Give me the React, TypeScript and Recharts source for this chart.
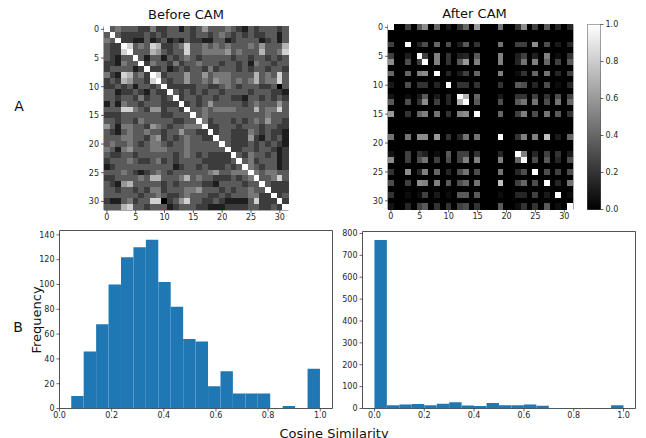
import {
  Bar,
  BarChart,
  ReferenceArea,
  Scatter,
  ScatterChart,
  XAxis,
  YAxis,
} from "recharts";

const FONT = "'DejaVu Sans', sans-serif";
const INK = "#262626";
const PAGE_W = 646;
const PAGE_H = 438;
const AXIS_W = 30;
const AXIS_H = 20;

const heatTicks = [0, 5, 10, 15, 20, 25, 30];
const colorbarTicks = [0, 0.2, 0.4, 0.6, 0.8, 1];

// upper triangle of the "before" matrix, row r starts at column r, 10 is the diagonal
const beforeUpper = [
  [10,3,4,3,3,3,2,2, 4,2,2,3,3,1,3,2, 3,5,3,3,3,4,3,2, 1,3,2,3,3,3,2,3],
  [10,3,2,2,2,2,3, 2,3,2,3,3,3,3,2, 3,3,2,3,4,3,2,3, 2,3,2,2,3,3,1,3],
  [10,2,2,1,1,3, 1,2,3,1,2,1,3,2, 2,1,1,3,3,1,2,3, 3,3,3,1,2,3,1,3],
  [10,7,3,4,3, 7,6,2,2,3,4,7,3,3, 4,3,4,3,4,3,3,3, 4,3,5,3,3,3,6,3],
  [10,3,3,3, 6,5,3,2,3,3,7,3,3, 4,4,4,4,5,3,4,3, 3,3,6,3,3,4,7,3],
  [10,3,1, 3,3,1,3,2,3,4,3,2, 3,3,3,3,3,2,3,3, 2,3,3,2,3,2,3,1],
  [10,2, 4,3,3,2,4,2,3,3,4, 3,3,3,2,3,3,2,3, 1,4,3,3,2,3,3,2],
  [10, 2,2,3,1,2,3,2,3,3, 2,4,2,3,3,3,2,3, 2,3,3,2,3,3,2,2],
  [10,7,2,3,3,3,5,3, 3,5,3,4,4,4,3,3, 3,3,6,3,4,3,7,3],
  [10,3,2,3,3,5,3, 3,4,3,5,4,4,3,4, 3,4,6,3,4,4,7,3],
  [10,2,2,2,2,2, 3,3,2,2,3,4,3,2, 3,3,3,2,2,3,0,3],
  [10,3,2,3,2, 3,2,3,3,2,3,3,3, 3,2,3,3,3,2,2,1],
  [10,2,3,3, 2,3,3,2,3,3,2,2, 1,3,3,2,3,2,3,2],
  [10,2,3, 2,3,5,3,3,3,3,3, 2,3,4,3,3,3,5,3],
  [10,3, 3,4,3,4,4,4,4,3, 3,3,6,3,4,4,7,3],
  [10, 3,4,3,3,3,3,3,3, 3,3,3,3,4,3,3,3],
  [10,4,2,3,3,3,2,3, 2,3,4,3,5,3,3,2],
  [10,2,2,3,3,3,2, 3,3,3,2,3,3,2,2],
  [10,2,3,3,2,2, 2,4,3,2,3,2,2,1],
  [10,3,3,2,2, 2,5,2,1,3,2,3,1],
  [10,3,2,2, 2,3,2,3,2,3,2,1],
  [10,2,2, 3,3,2,3,3,2,1,2],
  [10,3, 2,4,3,3,2,3,1,2],
  [10, 3,4,2,3,3,3,1,2],
  [10,4,3,2,3,3,1,2],
  [10,4,3,4,4,3,3],
  [10,3,3,4,7,3],
  [10,3,2,2,2],
  [10,2,2,2],
  [10,2,3],
  [10,2],
  [10],
];

// only these rows/columns carry anything after CAM
const afterActive = [0, 3, 5, 6, 8, 10, 12, 13, 15, 19, 22, 23, 25, 27, 29, 31];
const afterRows = [
  [1, .25, .35, .55, .4, .1, .2, .4, .6, .45, .2, .55, .25, .35, .15, .15],
  [.25, 1, .15, .3, .4, .3, .12, .35, .2, .45, .25, .25, .55, .3, .1, .15],
  [.25, .12, 1, .25, .5, .2, .12, .15, .35, .5, .12, .25, .12, .5, .05, .2],
  [.55, .3, .25, 1, .5, .2, .35, .6, .5, .5, .15, .45, .5, .4, .25, .35],
  [.4, .4, .5, .55, 1, .15, .1, .25, .4, .5, .05, .2, .4, .45, .15, .25],
  [.1, .3, .2, .2, .15, 1, .2, .2, .2, .2, .35, .3, .15, .3, .05, .15],
  [.08, .05, .1, .35, .1, .15, 1, .7, .4, .1, .2, .2, .25, .2, .3, .25],
  [.35, .3, .2, .55, .25, .15, .7, 1, .35, .3, .35, .45, .45, .3, .45, .4],
  [.6, .2, .4, .5, .45, .2, .5, .55, 1, .4, .25, .5, .3, .45, .35, .2],
  [.45, .45, .55, .55, .6, .2, .15, .45, .45, 1, .2, .5, .5, .75, .1, .4],
  [.08, .25, .2, .12, .05, .35, .25, .25, .2, .15, 1, .5, .15, .25, .2, .1],
  [.55, .25, .3, .45, .25, .3, .25, .5, .5, .5, .4, 1, .3, .35, .15, .3],
  [.2, .55, .15, .5, .4, .15, .3, .45, .3, .45, .15, .3, 1, .3, .25, .3],
  [.3, .25, .55, .5, .5, .35, .3, .4, .45, .75, .25, .4, .3, 1, .15, .45],
  [.2, .05, .05, .25, .1, .05, .35, .35, .35, .05, .15, .15, .25, .1, 1, .05],
  [.08, .15, .25, .35, .2, .2, .25, .3, .2, .35, .05, .2, .2, .35, .05, 1],
];

const beforeBins = [
  0.0689, 0.1166, 0.1643, 0.212, 0.2597, 0.3074, 0.3551, 0.4028, 0.4505, 0.4982,
  0.5459, 0.5936, 0.6413, 0.689, 0.7367, 0.7844, 0.8321, 0.8798, 0.9275, 0.9752,
];
const beforeFreq = [10, 46, 68, 100, 122, 130, 136, 102, 82, 56, 54, 18, 30, 12, 12, 12, 0, 2, 0, 32];

const afterBins = [
  0.025, 0.075, 0.125, 0.175, 0.225, 0.275, 0.325, 0.375, 0.425, 0.475,
  0.525, 0.575, 0.625, 0.675, 0.725, 0.775, 0.825, 0.875, 0.925, 0.975,
];
const afterFreq = [770, 15, 18, 20, 15, 22, 28, 14, 11, 25, 15, 15, 18, 12, 2, 1, 1, 0, 0, 15];

type HeatCell = { col: number; row: number; v: number };

const beforeCells: HeatCell[] = [];
const afterCells: HeatCell[] = [];
for (let row = 0; row < 32; row++) {
  for (let col = 0; col < 32; col++) {
    const lo = Math.min(row, col);
    const hi = Math.max(row, col);
    // my reads came out a bit dark against the picture, hence 8.5 and not 10
    beforeCells.push({ col, row, v: Math.min(1, beforeUpper[lo][hi - lo] / 8.5) });
    const r = afterActive.indexOf(row);
    const c = afterActive.indexOf(col);
    afterCells.push({ col, row, v: r >= 0 && c >= 0 ? afterRows[r][c] : 0 });
  }
}

const gray = (v: number) => {
  const g = Math.round(v * 255);
  return `rgb(${g},${g},${g})`;
};

type Box = { x: number; y: number; w: number; h: number };

// axes take AXIS_W / AXIS_H out of the margins, so the plot lands exactly on box
const boxMargin = (b: Box, axisRight = false) => ({
  left: axisRight ? b.x : b.x - AXIS_W,
  top: b.y,
  right: PAGE_W - b.x - b.w - (axisRight ? AXIS_W : 0),
  bottom: PAGE_H - b.y - b.h - (axisRight ? 0 : AXIS_H),
});

const layer: React.CSSProperties = { position: "absolute", left: 0, top: 0 };
const tickStyle = { fontSize: 8, fill: INK, fontFamily: FONT };
const tickLine = { stroke: INK, strokeWidth: 0.7 };
const fmt1 = (v: number) => v.toFixed(1);

function Heatmap({ cells, box, backdrop }: { cells: HeatCell[]; box: Box; backdrop: string }) {
  const size = box.w / 32 + 0.5;
  const drawCell = (props: any) => (
    <rect
      x={props.cx - size / 2}
      y={props.cy - size / 2}
      width={size}
      height={size}
      fill={gray(props.payload.v)}
      shapeRendering="crispEdges"
    />
  );
  return (
    <div style={layer}>
      <ScatterChart width={PAGE_W} height={PAGE_H} margin={boxMargin(box)}>
        <XAxis
          type="number"
          dataKey="col"
          domain={[-0.5, 31.5]}
          ticks={heatTicks}
          interval={0}
          height={AXIS_H}
          axisLine={false}
          tickSize={3}
          tickMargin={1}
          tick={tickStyle}
          tickLine={tickLine}
        />
        <YAxis
          type="number"
          dataKey="row"
          reversed
          domain={[-0.5, 31.5]}
          ticks={heatTicks}
          interval={0}
          width={AXIS_W}
          axisLine={false}
          tickSize={3}
          tickMargin={2}
          tick={tickStyle}
          tickLine={tickLine}
        />
        <ReferenceArea x1={-0.5} x2={31.5} y1={-0.5} y2={31.5} fill={backdrop} fillOpacity={1} />
        <Scatter data={cells} shape={drawCell} isAnimationActive={false} />
        <ReferenceArea x1={-0.5} x2={31.5} y1={-0.5} y2={31.5} fill="none" stroke={INK} strokeWidth={0.8} />
      </ScatterChart>
    </div>
  );
}

function Histogram({
  bins,
  freq,
  box,
  xDomain,
  xTicks,
  yDomain,
  yTicks,
}: {
  bins: number[];
  freq: number[];
  box: Box;
  xDomain: number[];
  xTicks: number[];
  yDomain: number[];
  yTicks: number[];
}) {
  const data = bins.map((x, i) => ({ x, freq: freq[i] }));
  return (
    <div style={layer}>
      {/* barSize has to stay just under the bin spacing or recharts falls back to 90% */}
      <BarChart width={PAGE_W} height={PAGE_H} data={data} margin={boxMargin(box)} barSize={12.4}>
        <XAxis
          type="number"
          dataKey="x"
          domain={xDomain}
          ticks={xTicks}
          interval={0}
          allowDataOverflow
          height={AXIS_H}
          axisLine={false}
          tickSize={3}
          tickMargin={1}
          tick={tickStyle}
          tickLine={tickLine}
          tickFormatter={fmt1}
        />
        <YAxis
          type="number"
          domain={yDomain}
          ticks={yTicks}
          interval={0}
          allowDataOverflow
          width={AXIS_W}
          axisLine={false}
          tickSize={3}
          tickMargin={2}
          tick={tickStyle}
          tickLine={tickLine}
        />
        <Bar dataKey="freq" fill="#1f77b4" isAnimationActive={false} />
        <ReferenceArea
          x1={xDomain[0]}
          x2={xDomain[1]}
          y1={yDomain[0]}
          y2={yDomain[1]}
          fill="none"
          stroke={INK}
          strokeWidth={0.8}
        />
      </BarChart>
    </div>
  );
}

function Colorbar({ box }: { box: Box }) {
  return (
    <div style={layer}>
      <BarChart
        width={PAGE_W}
        height={PAGE_H}
        data={[{ name: "scale", top: 1 }]}
        margin={boxMargin(box, true)}
        barCategoryGap={0}
      >
        <defs>
          <linearGradient id="grayscale" x1="0" y1="0" x2="0" y2="1">
            <stop offset="0%" stopColor="#ffffff" />
            <stop offset="100%" stopColor="#000000" />
          </linearGradient>
        </defs>
        <XAxis dataKey="name" hide />
        <YAxis
          orientation="right"
          type="number"
          domain={[0, 1]}
          ticks={colorbarTicks}
          interval={0}
          width={AXIS_W}
          axisLine={false}
          tickSize={3}
          tickMargin={2}
          tick={tickStyle}
          tickLine={tickLine}
          tickFormatter={fmt1}
        />
        <Bar dataKey="top" fill="url(#grayscale)" isAnimationActive={false} />
        <ReferenceArea y1={0} y2={1} fill="none" stroke={INK} strokeWidth={0.8} />
      </BarChart>
    </div>
  );
}

function Label({
  x,
  y,
  size,
  children,
  rotate,
}: {
  x: number;
  y: number;
  size: number;
  children: string;
  rotate?: boolean;
}) {
  return (
    <div
      style={{
        position: "absolute",
        left: x,
        top: y,
        fontFamily: FONT,
        fontSize: size,
        color: "#111",
        whiteSpace: "nowrap",
        lineHeight: 1,
        transform: `translate(-50%, -50%)${rotate ? " rotate(-90deg)" : ""}`,
      }}
    >
      {children}
    </div>
  );
}

export default function App() {
  return (
    <div
      style={{
        position: "absolute",
        left: 0,
        top: 0,
        width: PAGE_W,
        height: PAGE_H,
        overflow: "hidden",
        background: "#fff",
      }}
    >
      <Heatmap cells={beforeCells} box={{ x: 104, y: 26.5, w: 184.5, h: 183.5 }} backdrop="#444" />
      <Heatmap cells={afterCells} box={{ x: 388, y: 24.5, w: 185, h: 185 }} backdrop="#000" />
      <Colorbar box={{ x: 587.5, y: 24.5, w: 13, h: 185 }} />
      <Histogram
        bins={beforeBins}
        freq={beforeFreq}
        box={{ x: 59.5, y: 230.5, w: 273, h: 178 }}
        xDomain={[0, 1.047]}
        xTicks={[0, 0.2, 0.4, 0.6, 0.8, 1]}
        yDomain={[0, 143.5]}
        yTicks={[0, 20, 40, 60, 80, 100, 120, 140]}
      />
      <Histogram
        bins={afterBins}
        freq={afterFreq}
        box={{ x: 362.5, y: 231.5, w: 273, h: 177 }}
        xDomain={[-0.048, 1.048]}
        xTicks={[0, 0.2, 0.4, 0.6, 0.8, 1]}
        yDomain={[0, 809]}
        yTicks={[0, 100, 200, 300, 400, 500, 600, 700, 800]}
      />
      <Label x={186} y={14} size={13}>Before CAM</Label>
      <Label x={474.5} y={13} size={13}>After CAM</Label>
      <Label x={19} y={106} size={14}>A</Label>
      <Label x={18} y={327} size={14}>B</Label>
      <Label x={36} y={320} size={13} rotate>Frequency</Label>
      <Label x={334} y={433} size={13}>Cosine Similarity</Label>
    </div>
  );
}
